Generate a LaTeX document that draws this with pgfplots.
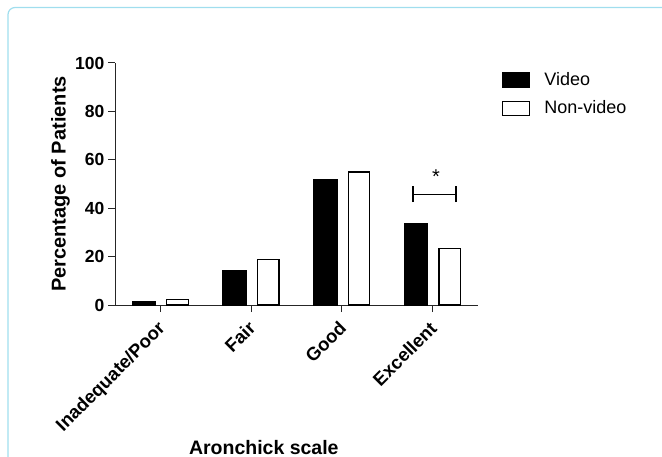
\documentclass[border=0pt]{standalone}
\usepackage{fontspec}
\setmainfont{Liberation Sans}
\usepackage{pgfplots}
\pgfplotsset{compat=1.18}
\definecolor{framec}{RGB}{160,222,238}
\begin{document}
\begin{tikzpicture}
\path[use as bounding box] (0pt,0pt) rectangle (662pt,-457pt);
\draw[framec, line width=1.2pt, rounded corners=7pt] (8pt,-490pt) -- (8pt,-7.5pt) -- (700pt,-7.5pt);
\begin{axis}[
  at={(115pt,-305pt)}, anchor=south west,
  scale only axis, width=363pt, height=242pt,
  xmin=-0.5, xmax=3.5, ymin=0, ymax=100,
  axis lines=left,
  axis line style={-, black!85, line width=1pt},
  xtick={0,1,2,3},
  xticklabels={Inadequate/Poor, Fair, Good, Excellent},
  ytick={0,20,40,60,80,100},
  tick align=outside, major tick length=7pt,
  tick style={black!85, line width=1pt},
  /pgf/number format/assume math mode=true,
  ticklabel style={inner sep=0pt},
  xticklabel style={font=\fontsize{18.5}{18.5}\selectfont\bfseries, xshift=-4pt, rotate=45, anchor=north east},
  xticklabel shift=8pt,
  yticklabel style={font=\fontsize{17.5}{17.5}\selectfont\bfseries, anchor=east},
  yticklabel shift=3.5pt,
  xlabel={Aronchick scale},
  ylabel={Percentage of Patients},
  xlabel style={font=\fontsize{19.5}{19.5}\selectfont\bfseries, inner sep=0pt, at={(axis description cs:0.41,-0.616)}, anchor=base},
  ylabel style={font=\fontsize{20}{20}\selectfont\bfseries, inner sep=0pt, at={(axis description cs:-0.124,0.5)}, anchor=south},
  ybar,
  legend style={at={(axis description cs:1.066,0.963)}, anchor=north west, draw=none, fill=none, inner sep=0pt, row sep=12.5pt, column sep=14pt, font=\fontsize{18}{18}\selectfont, nodes={inner sep=0pt}},
  legend cell align=left,
  legend image code/.code={\draw[#1, line width=1.3pt] (0pt,-7.8pt) rectangle (27pt,6.8pt);},
  clip=false,
]
\addplot[ybar, bar width=23.5pt, bar shift=-16.6pt, fill=black, draw=black, line width=0pt]
  coordinates {(0,1.4) (1,14.2) (2,52.0) (3,33.5)};
\addlegendentry{Video}
\addplot[ybar, bar width=21.5pt, bar shift=17.2pt, fill=white, draw=black, line width=1.3pt]
  coordinates {(0,2.3) (1,18.7) (2,54.9) (3,23.4)};
\addlegendentry{Non-video}
\draw[black, line width=1.3pt] (axis cs:2.785,45.8) -- (axis cs:3.258,45.8);
\draw[black, line width=1.3pt] (axis cs:2.785,42.5) -- (axis cs:2.785,49.2);
\draw[black, line width=1.3pt] (axis cs:3.258,42.5) -- (axis cs:3.258,49.2);
\node[anchor=base, inner sep=0pt, font=\fontsize{20}{20}\selectfont] at (axis cs:3.038,50.2) {*};
\end{axis}
\end{tikzpicture}
\end{document}
